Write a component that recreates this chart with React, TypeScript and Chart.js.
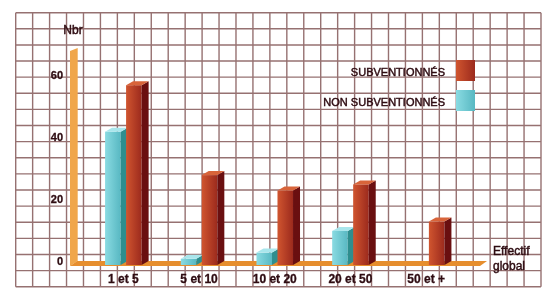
import React, { useEffect, useRef } from 'react';
import { Chart, registerables } from 'chart.js';

Chart.register(...registerables);

const categories = ['1 et 5', '5 et 10', '10 et 20', '20 et 50', '50 et +'];
const nonSubventionnes = [43, 2, 4, 11, 0];
const subventionnes = [58, 29, 24, 26, 14];
const yTicks = [0, 20, 40, 60];
const seriesLabels = ['NON SUBVENTIONNÉS', 'SUBVENTIONNÉS'];
const yAxisTitle = 'Nbr';
const xAxisTitle = ['Effectif', 'global'];

const TEXT = '#2e0c12';
const FONT = '"Liberation Sans", Arial, Helvetica, sans-serif';
const DX = 7;
const DY = 4;

const palettes = [
  { frontL: '#8adbe2', frontR: '#58b8c2', side: '#2e8e8e', top: '#a9e6ec' },
  { frontL: '#d0552f', frontR: '#9c2a1d', side: '#6a0f10', top: '#d8643a' },
];

function heavyText(ctx: any, s: string, x: number, y: number, w: number) {
  ctx.fillText(s, x, y);
  ctx.lineWidth = w;
  ctx.strokeStyle = TEXT;
  ctx.strokeText(s, x, y);
}

const deco = {
  id: 'deco',
  beforeDraw(chart: any) {
    const { ctx, width, height } = chart;
    ctx.save();
    ctx.fillStyle = '#ffffff';
    ctx.fillRect(0, 0, width, height);
    // background grid paper
    const gx0 = 15.7, gx1 = 541, gy0 = 12.7, gy1 = 286.7;
    const cols = 31, rows = 17;
    ctx.strokeStyle = 'rgba(110,58,58,0.72)';
    ctx.lineWidth = 1.4;
    ctx.beginPath();
    for (let i = 0; i <= cols; i++) {
      const x = gx0 + ((gx1 - gx0) * i) / cols;
      ctx.moveTo(x, gy0);
      ctx.lineTo(x, gy1);
    }
    for (let j = 0; j <= rows; j++) {
      const y = gy0 + ((gy1 - gy0) * j) / rows;
      ctx.moveTo(gx0, y);
      ctx.lineTo(gx1, y);
    }
    ctx.stroke();
    ctx.restore();
  },
  beforeDatasetsDraw(chart: any) {
    const { ctx, chartArea, scales } = chart;
    const y = scales.y;
    const base = y.getPixelForValue(0);
    const top = y.getPixelForValue(y.max);
    const wl = chartArea.left - 15.5;
    ctx.save();
    // floor
    ctx.fillStyle = '#e68e2e';
    ctx.beginPath();
    ctx.moveTo(wl, base + 1);
    ctx.lineTo(chartArea.right + 16, base + 1);
    ctx.lineTo(chartArea.right + 16 + DX, base + 1 - 5);
    ctx.lineTo(wl + DX, base + 1 - 5);
    ctx.closePath();
    ctx.fill();
    // wall (y axis)
    ctx.fillStyle = '#f0a64a';
    ctx.beginPath();
    ctx.moveTo(wl, base + 1);
    ctx.lineTo(wl, top + 3);
    ctx.lineTo(wl + DX + 0.7, top);
    ctx.lineTo(wl + DX + 0.7, base - 4);
    ctx.closePath();
    ctx.fill();
    ctx.restore();
  },
  afterDatasetsDraw(chart: any) {
    const { ctx } = chart;
    ctx.save();
    chart.data.datasets.forEach((ds: any, di: number) => {
      const meta = chart.getDatasetMeta(di);
      const pal = palettes[di];
      meta.data.forEach((el: any) => {
        const p = el.getProps(['x', 'y', 'base', 'width'], true);
        const l = p.x - p.width / 2;
        const r = p.x + p.width / 2;
        const t = p.y;
        const b = p.base;
        if (b - t < 0.5) return;
        const g = ctx.createLinearGradient(l, 0, r, 0);
        g.addColorStop(0, pal.frontL);
        g.addColorStop(1, pal.frontR);
        ctx.fillStyle = g;
        ctx.fillRect(l, t, r - l, b - t);
        // side
        ctx.fillStyle = pal.side;
        ctx.beginPath();
        ctx.moveTo(r, t);
        ctx.lineTo(r + DX, t - DY);
        ctx.lineTo(r + DX, b - DY);
        ctx.lineTo(r, b);
        ctx.closePath();
        ctx.fill();
        // top
        ctx.fillStyle = pal.top;
        ctx.beginPath();
        ctx.moveTo(l, t);
        ctx.lineTo(l + DX, t - DY);
        ctx.lineTo(r + DX, t - DY);
        ctx.lineTo(r, t);
        ctx.closePath();
        ctx.fill();
      });
    });
    ctx.restore();
  },
  afterDraw(chart: any) {
    const { ctx, chartArea, scales } = chart;
    const x = scales.x;
    const y = scales.y;
    ctx.save();
    ctx.fillStyle = TEXT;
    // y ticks
    ctx.font = `bold 11px ${FONT}`;
    ctx.textAlign = 'right';
    ctx.textBaseline = 'middle';
    yTicks.forEach((v) => {
      heavyText(ctx, String(v), chartArea.left - 22.5, y.getPixelForValue(v) - 3, 0.3);
    });
    // x labels
    ctx.font = `bold 12px ${FONT}`;
    ctx.textAlign = 'center';
    categories.forEach((c, i) => {
      heavyText(ctx, c, x.getPixelForValue(i), y.getPixelForValue(0) + 15, 0.3);
    });
    // axis titles
    ctx.font = `12px ${FONT}`;
    ctx.textAlign = 'center';
    heavyText(ctx, yAxisTitle, 73, 31, 0.45);
    ctx.textAlign = 'left';
    heavyText(ctx, xAxisTitle[0], 493, 252, 0.45);
    heavyText(ctx, xAxisTitle[1], 493, 267, 0.45);
    // legend
    ctx.font = `11px ${FONT}`;
    ctx.textAlign = 'right';
    const legendRows = [
      { label: seriesLabels[1], pal: palettes[1], y: 60 },
      { label: seriesLabels[0], pal: palettes[0], y: 90 },
    ];
    legendRows.forEach((row) => {
      ctx.fillStyle = TEXT;
      heavyText(ctx, row.label, 445, row.y + 12.5, 0.45);
      const g = ctx.createLinearGradient(456, 0, 475, 0);
      g.addColorStop(0, row.pal.frontL);
      g.addColorStop(1, row.pal.frontR);
      ctx.fillStyle = g;
      ctx.fillRect(456, row.y, 19, 21);
    });
    ctx.restore();
  },
};

export default function App() {
  const ref = useRef<HTMLCanvasElement | null>(null);
  useEffect(() => {
    document.body.style.margin = '0';
    if (!ref.current) return;
    const chart = new Chart(ref.current, {
      type: 'bar',
      data: {
        labels: categories,
        datasets: [
          { label: seriesLabels[0], data: nonSubventionnes, backgroundColor: 'rgba(0,0,0,0)' },
          { label: seriesLabels[1], data: subventionnes, backgroundColor: 'rgba(0,0,0,0)' },
        ],
      },
      options: {
        responsive: false,
        animation: false,
        layout: { padding: { left: 85.5, right: 78, top: 48, bottom: 30 } },
        datasets: { bar: { categoryPercentage: 0.555, barPercentage: 0.74 } },
        scales: {
          x: { display: false },
          y: { display: false, min: 0, max: 70 },
        },
        plugins: { legend: { display: false }, tooltip: { enabled: false } },
      },
      plugins: [deco],
    });
    return () => chart.destroy();
  }, []);
  return (
    <div style={{ width: 542, height: 295 }}>
      <canvas ref={ref} width={542} height={295} style={{ display: 'block' }} />
    </div>
  );
}
